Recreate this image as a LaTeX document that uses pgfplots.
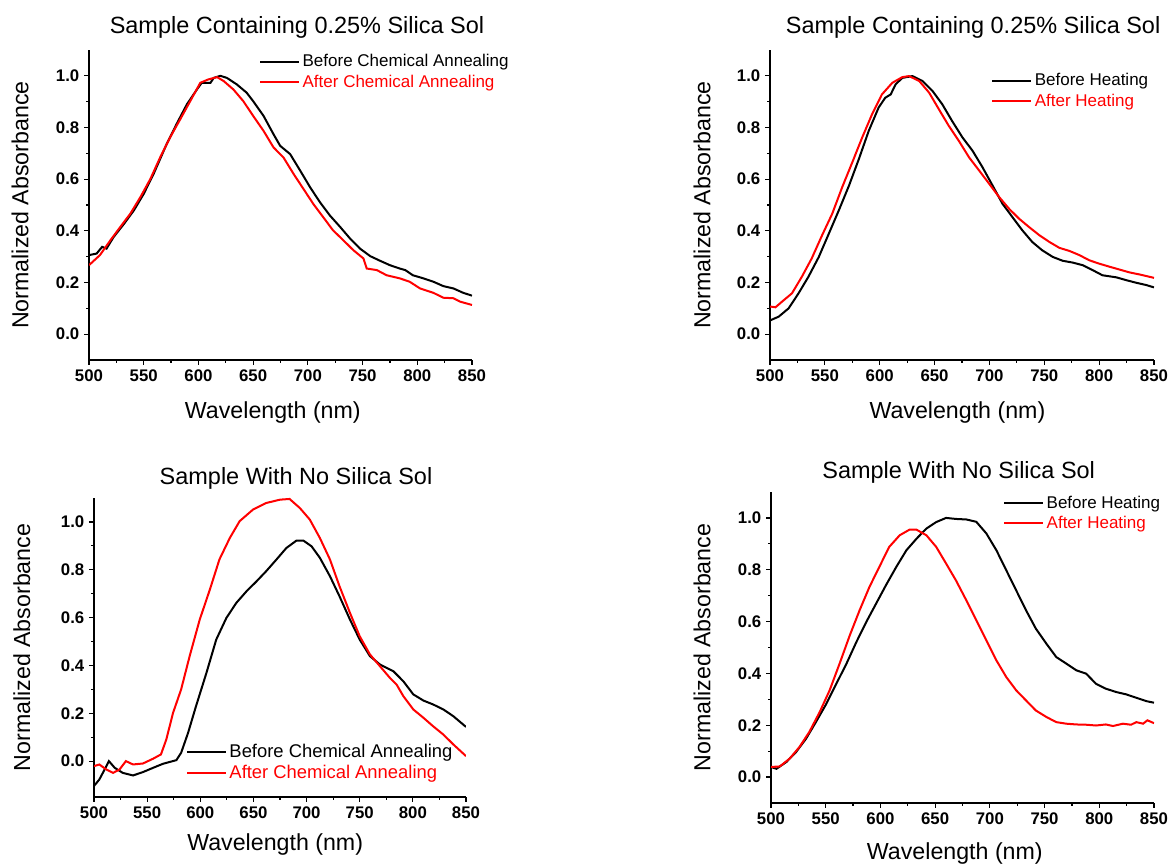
\documentclass[border=0pt]{standalone}
\usepackage{pgfplots}
\pgfplotsset{compat=1.18}
\usepackage{fontspec}
\setmainfont{Liberation Sans}
\setsansfont{Liberation Sans}

\pgfplotsset{
  every axis title shift=0pt,
  spec/.style={
    scale only axis,
    xmin=500, xmax=850,
    xtick={500,550,...,850},
    minor x tick num=1,
    ytick={0,0.2,0.4,0.6,0.8,1.0},
    minor y tick num=1,
    axis lines=left,
    axis line style={-, line width=1pt, black},
    tick align=outside,
    major tick length=3.75pt,
    minor tick length=2.25pt,
    tick style={line width=0.9pt, black},
    tick label style={font=\fontsize{12.6}{14}\selectfont\bfseries},
    /pgf/number format/assume math mode=true,
    yticklabel style={/pgf/number format/fixed, /pgf/number format/fixed zerofill, /pgf/number format/precision=1},
    label style={font=\fontsize{17.4}{20}\selectfont},
    title style={font=\fontsize{17.6}{20}\selectfont, anchor=center},
    xlabel={Wavelength (nm)},
    ylabel={Normalized Absorbance},
    legend cell align=left,
    legend image code/.code={\draw[##1, line width=1.5pt] (0pt,0pt) -- (29pt,0pt);},
    legend style={draw=none, fill=none, inner sep=0pt, font=\fontsize{12.75}{15}\selectfont, anchor=north west, row sep=0.6pt},
    every axis plot/.append style={line width=1.5pt},
  }
}

\begin{document}
\begin{tikzpicture}
\path[use as bounding box] (0,0) rectangle (879pt,650.25pt);

% top left
\begin{axis}[spec, at={(66.75pt,380.25pt)}, anchor=south west,
  width=287.25pt, height=232.5pt, ymin=-0.1, ymax=1.1,
  title={Sample Containing 0.25\% Silica Sol},
  title style={at={(axis description cs:0.543,1.074)}},
  xlabel style={at={(axis description cs:0.48,-0.168)}, anchor=center},
  ylabel style={at={(axis description cs:-0.18,0.5)}, anchor=center},
  legend style={at={(axis description cs:0.444,0.995)}}]
\addplot[black] coordinates {
(500,0.306) (507,0.312) (512,0.338) (516,0.331) (522.5,0.376) (532,0.427) (541,0.479)
(550,0.543) (559,0.62) (571,0.736) (580,0.813) (589.5,0.89) (598.6,0.947) (603,0.973)
(611,0.973) (614,0.992) (620,1.0) (626,0.992) (635,0.967) (644,0.935) (650,0.902)
(659.5,0.845) (668.6,0.774) (674.7,0.729) (683.8,0.697) (693,0.633) (702,0.569)
(711,0.511) (720,0.46) (729.5,0.415) (738.6,0.37) (747.7,0.331) (757,0.302) (766,0.284)
(775,0.267) (784,0.254) (789,0.248) (796,0.228) (805.6,0.216) (814.7,0.203) (823.8,0.186)
(833,0.177) (842,0.16) (850,0.149)
};
\addlegendentry{Before Chemical Annealing}
\addplot[red] coordinates {
(500,0.267) (510,0.306) (519.5,0.363) (528.6,0.415) (537.7,0.466) (546.9,0.53) (556,0.6)
(565,0.684) (574,0.761) (583.4,0.832) (592.5,0.902) (601.7,0.973) (609,0.986) (617,0.995)
(623,0.98) (632,0.947) (641,0.902) (650,0.845) (659.5,0.787) (668.6,0.723) (677.7,0.684)
(687,0.62) (696,0.562) (705,0.504) (714,0.453) (723,0.402) (732.5,0.363) (741.6,0.325)
(750.8,0.293) (753.8,0.254) (763,0.248) (772,0.228) (784,0.216) (793,0.203) (802.5,0.177)
(814.7,0.16) (823.8,0.141) (833,0.139) (839,0.126) (850,0.113)
};
\addlegendentry{\textcolor{red}{After Chemical Annealing}}
\end{axis}

% top right
\begin{axis}[spec, at={(577.5pt,380.25pt)}, anchor=south west,
  width=288pt, height=232.5pt, ymin=-0.1, ymax=1.1,
  title={Sample Containing 0.25\% Silica Sol},
  title style={at={(axis description cs:0.529,1.074)}},
  xlabel style={at={(axis description cs:0.488,-0.168)}, anchor=center},
  ylabel style={at={(axis description cs:-0.177,0.5)}, anchor=center},
  legend style={at={(axis description cs:0.576,0.934)}}]
\addplot[black] coordinates {
(500,0.053) (508,0.068) (517,0.1) (526,0.158) (535,0.222) (544.5,0.299) (553.6,0.389)
(562.7,0.479) (572,0.575) (581,0.678) (590,0.787) (599,0.877) (605,0.915) (610,0.928)
(614.5,0.967) (620.6,0.992) (629.8,0.999) (639,0.98) (648,0.942) (657,0.89) (666,0.825)
(675.5,0.761) (684.6,0.71) (693.7,0.646) (702.9,0.575) (712,0.504) (721,0.453) (730,0.402)
(739,0.357) (748,0.325) (757.7,0.299) (766.8,0.284) (776,0.277) (785,0.267) (794,0.248)
(803,0.228) (815.6,0.22) (824.7,0.209) (833.8,0.199) (843,0.19) (850,0.181)
};
\addlegendentry{Before Heating}
\addplot[red] coordinates {
(500,0.107) (505,0.104) (511,0.126) (520,0.158) (529,0.222) (538,0.293) (547.5,0.383)
(556.7,0.466) (565.8,0.569) (575,0.665) (584,0.761) (593,0.851) (602,0.928) (611.5,0.973)
(620.6,0.995) (626.7,0.999) (636,0.98) (645,0.935) (654,0.87) (663,0.806) (672,0.749)
(681.5,0.684) (690.7,0.633) (699.8,0.582) (709,0.53) (718,0.485) (727,0.447) (736,0.415)
(745.5,0.383) (754.6,0.357) (763.8,0.334) (773,0.322) (782,0.306) (791,0.286) (800,0.273)
(809.5,0.261) (818.6,0.25) (827.7,0.239) (836.9,0.231) (850,0.218)
};
\addlegendentry{\textcolor{red}{After Heating}}
\end{axis}

% bottom left
\begin{axis}[spec, at={(70.5pt,52.5pt)}, anchor=south west,
  width=279pt, height=224.25pt, ymin=-0.15, ymax=1.1,
  title={Sample With No Silica Sol},
  title style={at={(axis description cs:0.543,1.067)}},
  xlabel style={at={(axis description cs:0.487,-0.16)}, anchor=center},
  ylabel style={at={(axis description cs:-0.194,0.5)}, anchor=center},
  legend style={at={(axis description cs:0.247,0.187)}, font=\fontsize{13.8}{16}\selectfont}]
\addplot[black] coordinates {
(500,-0.104) (505,-0.077) (510,-0.035) (514,0.0) (519.5,-0.028) (527,-0.049) (536.7,-0.06)
(546,-0.046) (555.6,-0.028) (565,-0.011) (577.5,0.004) (582,0.035) (588.5,0.118) (596,0.23)
(605.8,0.369) (615,0.508) (624.6,0.599) (634,0.662) (643.5,0.71) (653,0.752) (662,0.794)
(671.7,0.843) (681,0.891) (690.5,0.922) (697,0.922) (704.7,0.898) (712.5,0.85) (722,0.773)
(731,0.689) (740.8,0.592) (750,0.508) (759.6,0.439) (769,0.404) (781.6,0.376) (791,0.334)
(800.4,0.279) (810,0.253) (819,0.237) (828.7,0.216) (838,0.188) (850,0.143)
};
\addlegendentry{Before Chemical Annealing}
\addplot[red] coordinates {
(500,-0.021) (505,-0.014) (511.6,-0.035) (518,-0.049) (524,-0.035) (530,0.0) (536.7,-0.014)
(546,-0.01) (555.6,0.01) (563,0.028) (568,0.09) (574.4,0.202) (582,0.3) (590,0.439)
(599.5,0.592) (609,0.717) (618,0.843) (627.8,0.933) (637,1.003) (649.7,1.052) (662,1.079)
(675,1.093) (684,1.096) (693.7,1.058) (703,1.01) (712.5,0.933) (722,0.843) (731,0.731)
(740.8,0.62) (750,0.522) (759.6,0.446) (769,0.397) (778.4,0.348) (784.7,0.32) (791,0.272)
(800.4,0.216) (810,0.181) (819,0.146) (828.7,0.111) (838,0.07) (850,0.021)
};
\addlegendentry{\textcolor{red}{After Chemical Annealing}}
\end{axis}

% bottom right
\begin{axis}[spec, at={(578.25pt,48pt)}, anchor=south west,
  width=287.25pt, height=233.25pt, ymin=-0.1, ymax=1.1,
  title={Sample With No Silica Sol},
  title style={at={(axis description cs:0.49,1.064)}},
  xlabel style={at={(axis description cs:0.48,-0.161)}, anchor=center},
  ylabel style={at={(axis description cs:-0.18,0.5)}, anchor=center},
  legend style={at={(axis description cs:0.606,0.997)}}]
\addplot[black] coordinates {
(500,0.039) (505,0.032) (514,0.058) (523,0.097) (532,0.148) (541,0.212) (550.6,0.283)
(559.7,0.36) (569,0.438) (578,0.521) (587,0.598) (596,0.669) (605,0.74) (614.5,0.811)
(623.7,0.875) (633,0.92) (642,0.959) (651,0.984) (660,1.0) (669,0.996) (678.5,0.994)
(687.6,0.985) (696.8,0.94) (706,0.875) (715,0.798) (724,0.721) (733,0.644) (742,0.573)
(751.6,0.515) (760.7,0.463) (769.8,0.438) (779,0.412) (788,0.399) (797,0.36) (806,0.341)
(815.6,0.328) (824.7,0.319) (833.8,0.306) (843,0.293) (850,0.287)
};
\addlegendentry{Before Heating}
\addplot[red] coordinates {
(500,0.039) (508,0.041) (517,0.071) (526,0.116) (535,0.174) (544.5,0.251) (553.6,0.335)
(562.7,0.438) (572,0.547) (581,0.644) (590,0.734) (599,0.811) (608,0.888) (617.6,0.933)
(626.7,0.955) (632.8,0.955) (642,0.933) (651,0.888) (660,0.824) (669,0.759) (678.5,0.682)
(687.6,0.605) (696.8,0.528) (706,0.45) (715,0.386) (724,0.335) (733,0.296) (742,0.257)
(751.6,0.232) (760.7,0.212) (769.8,0.206) (779,0.203) (788,0.202) (797,0.199) (806,0.203)
(812.5,0.197) (821.6,0.206) (829,0.202) (833.8,0.212) (840,0.206) (844,0.219) (850,0.208)
};
\addlegendentry{\textcolor{red}{After Heating}}
\end{axis}
\end{tikzpicture}
\end{document}
